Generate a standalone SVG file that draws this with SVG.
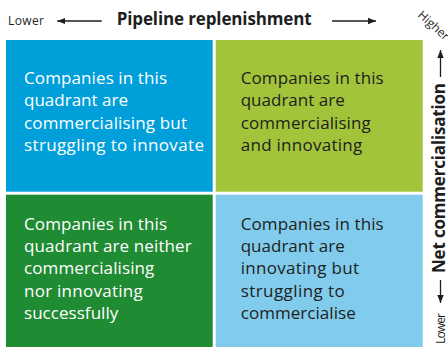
<svg xmlns="http://www.w3.org/2000/svg" width="448" height="347" viewBox="0 0 448 347">
<defs>
<style>
.body{font-family:"Open Sans","Liberation Sans",sans-serif;font-size:17px;}
.light{fill:#ffffff;}
.dark{fill:#1e1e1e;}
.axis{font-family:"Open Sans","Liberation Sans",sans-serif;font-weight:bold;font-size:17px;fill:#1e1e1e;}
.small{font-family:"Open Sans","Liberation Sans",sans-serif;font-size:12px;fill:#1e1e1e;}
.arr{stroke:#1e1e1e;stroke-width:1.3;fill:none;marker-end:url(#ah);}
</style>
<marker id="ah" markerUnits="userSpaceOnUse" markerWidth="8" markerHeight="8" viewBox="0 0 8 8" refX="8" refY="4" orient="auto">
<path d="M0,0.8 L8,4 L0,7.2 z" fill="#1e1e1e"/>
</marker>
</defs>
<rect width="448" height="347" fill="#ffffff"/>

<g id="q-top-left">
<rect x="6" y="40" width="206.7" height="151.7" fill="#009fda"/>
<text class="body light"><tspan x="24" y="84" textLength="143">Companies in this</tspan><tspan x="24" y="106.2" textLength="104">quadrant are</tspan><tspan x="24" y="128.5" textLength="163">commercialising but</tspan><tspan x="24" y="150.7" textLength="180">struggling to innovate</tspan></text>
</g>

<g id="q-top-right">
<rect x="215.7" y="40" width="207" height="151.7" fill="#a2c43a"/>
<text class="body dark"><tspan x="240.7" y="84" textLength="143">Companies in this</tspan><tspan x="240.7" y="106.2" textLength="104">quadrant are</tspan><tspan x="240.7" y="128.5" textLength="130">commercialising</tspan><tspan x="240.7" y="150.7" textLength="121.6">and innovating</tspan></text>
</g>

<g id="q-bottom-left">
<rect x="6" y="194.7" width="206.7" height="152.3" fill="#1f8b33"/>
<text class="body light"><tspan x="24" y="230" textLength="143">Companies in this</tspan><tspan x="24" y="252.2" textLength="167.7">quadrant are neither</tspan><tspan x="24" y="274.4" textLength="130.3">commercialising</tspan><tspan x="24" y="296.7" textLength="118.7">nor innovating</tspan><tspan x="24" y="319" textLength="94.3">successfully</tspan></text>
</g>

<g id="q-bottom-right">
<rect x="215.7" y="194.7" width="207" height="152.3" fill="#81cbec"/>
<text class="body dark"><tspan x="240.7" y="230" textLength="143">Companies in this</tspan><tspan x="240.7" y="252.2" textLength="104">quadrant are</tspan><tspan x="240.7" y="274.4" textLength="118.3">innovating but</tspan><tspan x="240.7" y="296.7" textLength="104">struggling to</tspan><tspan x="240.7" y="319" textLength="115">commercialise</tspan></text>
</g>

<g id="axis-x">
<text class="small" x="8" y="25" textLength="36">Lower</text>
<text class="axis" x="116.7" y="25" textLength="195">Pipeline replenishment</text>
<text class="small" transform="translate(417,16) rotate(42)" font-size="11.5">Higher</text>
</g>

<g id="axis-y">
<text class="axis" transform="translate(445,273) rotate(-90)" textLength="190">Net commercialisation</text>
<text class="small" transform="translate(445,344) rotate(-90)" font-size="11.5" textLength="31">Lower</text>
</g>

<g id="connectors">
<line class="arr" x1="101.7" y1="21" x2="57.3" y2="21"/>
<line class="arr" x1="332" y1="21" x2="376" y2="21"/>
<line class="arr" x1="440.5" y1="77" x2="440.5" y2="50"/>
<line class="arr" x1="440.5" y1="280" x2="440.5" y2="303"/>
</g>
</svg>
